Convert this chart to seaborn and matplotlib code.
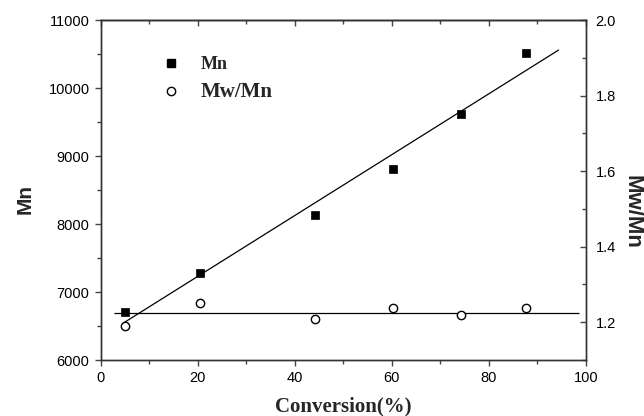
import matplotlib
matplotlib.use("Agg")
import matplotlib.pyplot as plt
from matplotlib.ticker import MultipleLocator
from matplotlib.lines import Line2D
import seaborn as sns
import numpy as np
import pandas as pd

# data
conversion = [5.0, 20.5, 44.2, 60.2, 74.3, 87.6]
mn = [6710, 7284, 8128, 8804, 9618, 10519]
pdi = [1.190, 1.250, 1.208, 1.238, 1.220, 1.238]

fit_range = (4.7, 94.4)      # extent of the Mn regression line
pdi_line_range = (2.8, 98.6)  # extent of the mean Mw/Mn line

df = pd.DataFrame({"conv": conversion, "mn": mn, "pdi": pdi})

sns.set_style("ticks")
plt.rcParams["font.family"] = ["Liberation Sans", "DejaVu Sans"]
plt.rcParams["axes.edgecolor"] = "#333333"
plt.rcParams["axes.linewidth"] = 1.0

fig = plt.figure(figsize=(6.44, 4.16), dpi=100)
ax = fig.add_axes([0.1564, 0.1346, 0.7531, 0.8173])
ax2 = ax.twinx()

sns.scatterplot(data=df, x="conv", y="mn", ax=ax, marker="s", color="black",
                s=36, edgecolor="black", linewidth=0.5, zorder=3)
sns.scatterplot(data=df, x="conv", y="pdi", ax=ax2, marker="o", facecolor="white",
                edgecolor="black", linewidth=1.0, s=36, zorder=3)

# linear fit for Mn
slope, intercept = np.polyfit(df["conv"], df["mn"], 1)
xf = np.array(fit_range)
ax.plot(xf, slope * xf + intercept, color="black", lw=0.9)

# mean line for Mw/Mn
ax2.hlines(df["pdi"].mean(), *pdi_line_range, color="black", lw=0.9)

ax.set_xlim(0, 100)
ax.set_ylim(6000, 11000)
ax2.set_ylim(1.1, 2.0)

ax.xaxis.set_major_locator(MultipleLocator(20))
ax.xaxis.set_minor_locator(MultipleLocator(10))
ax.yaxis.set_major_locator(MultipleLocator(1000))
ax.yaxis.set_minor_locator(MultipleLocator(500))
ax2.yaxis.set_major_locator(MultipleLocator(0.2))
ax2.yaxis.set_minor_locator(MultipleLocator(0.1))
ax2.yaxis.set_major_formatter(plt.FormatStrFormatter("%.1f"))

tick_kw = dict(color="#444444", labelsize=10.5, labelcolor="black")
ax.tick_params(axis="both", which="major", direction="out", length=4.5, width=1, **tick_kw)
ax.tick_params(axis="both", which="minor", direction="out", length=3, width=1, color="#444444")
ax2.tick_params(axis="y", which="major", direction="in", length=4.5, width=1, pad=7, **tick_kw)
ax2.tick_params(axis="y", which="minor", direction="in", length=3, width=1, color="#444444")

top = ax.secondary_xaxis("top")
top.xaxis.set_major_locator(MultipleLocator(20))
top.xaxis.set_minor_locator(MultipleLocator(10))
top.tick_params(which="major", direction="in", length=4.5, width=1, color="#444444", labeltop=False)
top.tick_params(which="minor", direction="in", length=3, width=1, color="#444444")

ax.set_xlabel("Conversion(%)", family="Liberation Serif", fontweight="bold", fontsize=15, labelpad=8)
ax.set_ylabel("Mn", fontweight="bold", fontsize=15, labelpad=10)
ax2.set_ylabel("Mw/Mn", fontweight="bold", fontsize=16, rotation=270, labelpad=19)
ax.yaxis.label.set_y(0.474)
ax2.yaxis.label.set_y(0.435)

handles = [
    Line2D([], [], marker="s", color="black", ls="none", markersize=6),
    Line2D([], [], marker="o", markerfacecolor="white", markeredgecolor="black",
           ls="none", markersize=6, markeredgewidth=1),
]
leg = ax.legend(handles, ["Mn", "Mw/Mn"], loc="upper left", bbox_to_anchor=(0.075, 0.942),
                frameon=False, handletextpad=0.6, labelspacing=0.5,
                prop={"family": "Liberation Serif", "weight": "bold", "size": 13})
leg.get_texts()[1].set_fontsize(15)

fig.savefig("out.png", dpi=100)
